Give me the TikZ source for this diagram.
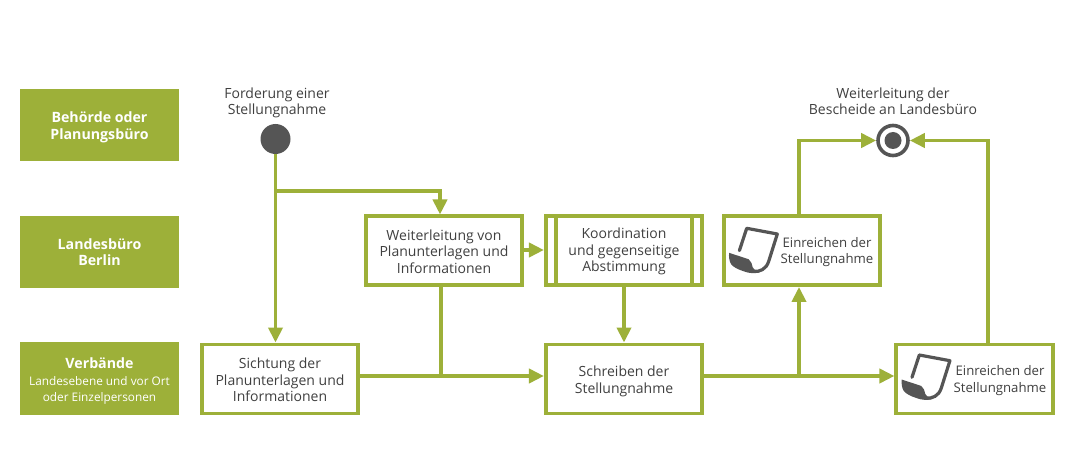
\documentclass[tikz,border=0pt]{standalone}
\usepackage{fontspec}
\setmainfont{Open Sans}
\usetikzlibrary{arrows.meta,calc}
\definecolor{grn}{HTML}{9DB039}
\definecolor{ink}{HTML}{404040}
\definecolor{drk}{HTML}{555555}
\newcommand{\dnn}[1]{\rule{0pt}{#1pt}}
\tikzset{
  x=1pt,y=-1pt,
  lane/.style={fill=grn,text=white,inner sep=0pt,align=center,minimum width=158.5pt,minimum height=72.5pt,font=\fontsize{14.2}{16.5}\selectfont\bfseries},
  stepbox/.style={draw=grn,line width=3.9pt,fill=white,text=ink,inner sep=0pt,align=center,minimum width=156.2pt,minimum height=69pt,font=\fontsize{14}{16.5}\selectfont},
  caption/.style={text=ink,inner sep=0pt,align=center,font=\fontsize{14}{16.5}\selectfont},
  flow/.style={draw=grn,line width=3.9pt,-{Triangle[length=15pt,width=14pt]}},
  plainflow/.style={draw=grn,line width=3.9pt},
  paper/.pic={
    \draw[drk,line width=3.2pt,line join=round,line cap=round]
      (-7.3,22.3) -- (0,0) -- (30.6,5.7) -- (22,33)
      .. controls (19.5,41) and (13,44) .. (6,43);
    \fill[drk] (-17.6,24.5) -- (2,31) .. controls (5,33) and (5,36) .. (6,39)
      .. controls (7,42) and (10,43.5) .. (13,44)
      .. controls (8,45.5) and (2,45) .. (-3,43)
      .. controls (-9,41) and (-13,39) .. (-15.5,36)
      .. controls (-17.5,33) and (-18,28) .. (-17.6,24.5) -- cycle;
  }
}
\begin{document}
\begin{tikzpicture}
\useasboundingbox (0,0) rectangle (1090,473);
\fill[white] (0,0) rectangle (1090,473);
% lanes
\node[lane] (l1) at (99.5,125) {\dnn{15}Behörde oder\\Planungsbüro};
\node[lane] (l2) at (99.5,252) {Landesbüro\\Berlin};
\node[lane] (l3) at (99.5,378.5) {\dnn{16}Verbände\\{\fontsize{11.8}{16.3}\selectfont\mdseries Landesebene und vor Ort}\\{\fontsize{11.8}{16.3}\selectfont\mdseries oder Einzelpersonen}};
% events
\node[circle,fill=drk,minimum size=30pt,inner sep=0pt] (start) at (275.5,139) {};
\node[circle,draw=drk,line width=3.6pt,fill=white,minimum size=30pt,inner sep=0pt] (end) at (893,140.5) {};
\node[circle,fill=drk,minimum size=17pt,inner sep=0pt] (endin) at (893,140.5) {};
\node[caption] (capa) at (277,103) {Forderung einer\\Stellungnahme};
\node[caption] (capb) at (893,101.5) {Weiterleitung der\\Bescheide an Landesbüro};
% steps
\node[stepbox] (sicht) at (280,379) {\dnn{13}Sichtung der\\Planunterlagen und\\Informationen};
\node[stepbox] (weit) at (444,250.5) {\dnn{13}Weiterleitung von\\Planunterlagen und\\Informationen};
\node[stepbox] (koord) at (624,250.5) {\dnn{13}Koordination\\und gegenseitige\\Abstimmung};
\draw[grn,line width=3.9pt] ($(koord.north west)+(12,0)$) -- ($(koord.south west)+(12,0)$);
\draw[grn,line width=3.9pt] ($(koord.north east)+(-12,0)$) -- ($(koord.south east)+(-12,0)$);
\node[stepbox] (schr) at (624,379) {\dnn{15.5}Schreiben der\\Stellungnahme};
\node[stepbox] (ein1) at (802,250.5) {};
\node[stepbox] (ein2) at (974.5,379) {};
\node[caption,font=\fontsize{13.2}{16.3}\selectfont] (t1) at (827,252) {Einreichen der\\Stellungnahme};
\node[caption,font=\fontsize{13.2}{16.3}\selectfont] (t2) at (1000,380.5) {Einreichen der\\Stellungnahme};
\pic at (746.7,228.3) {paper};
\pic at (919.3,355) {paper};
% junctions
\coordinate (j1) at (275.5,191);
\coordinate (j3) at (441,376);
\coordinate (j4) at (799,376);
% connectors
\draw[flow] (start.south) -- (start.south |- sicht.north);
\draw[flow] (j1) -- (440,191) -- (440,214.5);
\draw[flow] (weit.east |- 0,250) -- (koord.west |- 0,250);
\draw[plainflow] (j3 |- weit.south) -- (j3);
\draw[flow] (sicht.east |- j3) -- (schr.west |- j3);
\draw[flow] (koord.south) -- (schr.north);
\draw[flow] (schr.east |- j3) -- (ein2.west |- j3);
\draw[flow] (j4) -- (j4 |- ein1.south);
\draw[flow] (j4 |- ein1.north) -- (j4 |- end.west) -- (end.west);
\draw[flow] (988,0 |- ein2.north) -- (988,0 |- end.east) -- (end.east);
\end{tikzpicture}
\end{document}
